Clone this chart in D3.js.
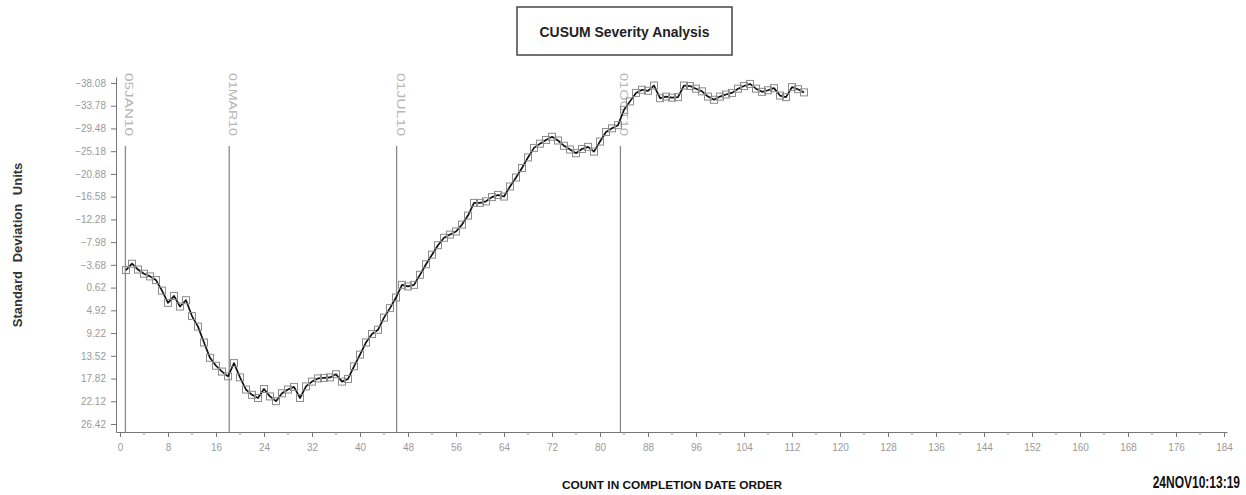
<!DOCTYPE html>
<html>
<head>
<meta charset="utf-8">
<script src="https://cdn.jsdelivr.net/npm/d3@7"></script>
<style>
  body { margin: 0; background: #fff; }
  svg { display: block; }
  text { font-family: 'Liberation Sans Narrow', 'Arial Narrow', 'Liberation Sans', Arial, sans-serif; }
</style>
</head>
<body>
<svg id="chart" width="1246" height="495"></svg>
<script>
// CUSUM of severity, one value per record in completion-date order
const cusumValues = [
  -2.7, -3.9, -2.8, -2.0, -1.5, -0.8, 1.2, 3.5, 2.2, 4.2,
   3.0, 6.0, 8.0, 11.0, 13.9, 15.4, 16.5, 17.4, 14.9, 17.6,
  19.9, 20.9, 21.5, 19.8, 21.2, 22.1, 20.6, 19.9, 19.4, 21.5,
  19.3, 18.4, 17.8, 17.7, 17.6, 17.0, 18.4, 17.9, 15.5, 13.3,
  11.0, 9.4, 8.6, 6.3, 4.5, 2.5, 0.1, 0.4, 0.1, -1.8,
  -3.8, -5.6, -7.4, -8.8, -9.4, -10.0, -11.3, -13.0, -15.4, -15.4,
  -15.7, -16.5, -16.9, -16.6, -18.5, -20.2, -22.0, -24.0, -25.8, -26.6,
  -27.3, -27.9, -27.2, -26.2, -25.5, -24.8, -25.6, -26.0, -25.1, -27.0,
  -28.8, -29.5, -30.1, -33.0, -34.6, -36.2, -36.8, -36.6, -37.6, -35.2,
  -35.5, -35.3, -35.4, -37.6, -37.5, -37.0, -36.5, -35.5, -34.9, -35.5,
  -35.9, -36.2, -37.0, -37.5, -37.9, -37.0, -36.4, -36.7, -37.1, -35.7,
  -35.4, -37.3, -36.9, -36.3
];
const counts = cusumValues.map((_, i) => i + 1);

// Axis tick values
const yTickValues = [-38.08, -33.78, -29.48, -25.18, -20.88, -16.58, -12.28, -7.98,
                     -3.68, 0.62, 4.92, 9.22, 13.52, 17.82, 22.12, 26.42];
const xTickValues = [0, 8, 16, 24, 32, 40, 48, 56, 64, 72, 80, 88, 96, 104, 112,
                     120, 128, 136, 144, 152, 160, 168, 176, 184];

// Date reference lines, placed at the count where each date starts
const refLabels = ["05JAN10", "01MAR10", "01JUL10", "01OCT10"];
const refCounts = [0.9, 18.2, 46.1, 83.4];

const svg = d3.select("#chart");

const x = d3.scaleLinear().domain([-0.667, 184.5]).range([116, 1227]);
const y = d3.scaleLinear().domain([-39.21, 27.93]).range([77, 432]);

const tickGray = "#9a9a9a";

// Title box
svg.append("rect")
  .attr("x", 517).attr("y", 7).attr("width", 215).attr("height", 48)
  .attr("fill", "#fff").attr("stroke", "#444").attr("stroke-width", 1.5);
svg.append("text")
  .attr("x", 624.5).attr("y", 37)
  .attr("text-anchor", "middle")
  .attr("font-size", 15).attr("font-weight", "bold").attr("fill", "#222")
  .attr("textLength", 170).attr("lengthAdjust", "spacingAndGlyphs")
  .text("CUSUM Severity Analysis");

// Y axis
const yAxis = svg.append("g")
  .attr("transform", "translate(116,0)")
  .call(d3.axisLeft(y).tickValues(yTickValues).tickSize(5).tickSizeOuter(0)
          .tickFormat(d3.format(".2f")));
yAxis.select(".domain").attr("stroke", "#777");
yAxis.selectAll(".tick line").attr("stroke", "#777");
yAxis.selectAll(".tick text")
  .attr("x", -10).attr("font-size", 10).attr("fill", tickGray)
  .attr("font-family", "'Liberation Sans Narrow', 'Liberation Sans', Arial, sans-serif");

// X axis
const xAxis = svg.append("g")
  .attr("transform", "translate(0,432)")
  .call(d3.axisBottom(x).tickValues(xTickValues).tickSize(5).tickSizeOuter(0)
          .tickFormat(d3.format("d")));
xAxis.select(".domain").attr("stroke", "#777");
xAxis.selectAll(".tick line").attr("stroke", "#777");
xAxis.selectAll(".tick text")
  .attr("y", 12).attr("font-size", 10).attr("fill", tickGray)
  .attr("font-family", "'Liberation Sans Narrow', 'Liberation Sans', Arial, sans-serif");

// Minor ticks halfway between labelled ticks
svg.append("g").selectAll("line")
  .data(xTickValues.slice(0, -1).map(v => v + 4))
  .join("line")
  .attr("x1", d => x(d)).attr("x2", d => x(d))
  .attr("y1", 432).attr("y2", 435)
  .attr("stroke", "#999");

// Reference lines for dates
const refs = svg.append("g");
refs.selectAll("line")
  .data(refCounts)
  .join("line")
  .attr("x1", d => x(d)).attr("x2", d => x(d))
  .attr("y1", 146).attr("y2", 432)
  .attr("stroke", "#8a8a8a").attr("stroke-width", 1.3);
refs.selectAll("text")
  .data(refCounts)
  .join("text")
  .attr("transform", d => `translate(${x(d)},73) rotate(90)`)
  .attr("font-size", 11).attr("fill", "#b5b5b5")
  .attr("textLength", 63).attr("lengthAdjust", "spacingAndGlyphs")
  .text((d, i) => refLabels[i]);

// CUSUM line
const line = d3.line()
  .x((d, i) => x(counts[i]))
  .y(d => y(d));
svg.append("path")
  .datum(cusumValues)
  .attr("d", line)
  .attr("fill", "none")
  .attr("stroke", "#111")
  .attr("stroke-width", 1.7)
  .attr("stroke-linejoin", "round");

// Open square markers
const ms = 7;
svg.append("g").selectAll("rect")
  .data(cusumValues)
  .join("rect")
  .attr("x", (d, i) => x(counts[i]) - ms / 2)
  .attr("y", d => y(d) - ms / 2)
  .attr("width", ms).attr("height", ms)
  .attr("fill", "none")
  .attr("stroke", "#8c8c8c")
  .attr("stroke-width", 1);

// Axis titles
svg.append("text")
  .attr("transform", "translate(22,245) rotate(-90)")
  .attr("text-anchor", "middle")
  .attr("font-size", 13).attr("font-weight", "bold").attr("fill", "#333")
  .attr("word-spacing", 5)
  .attr("font-family", "'Liberation Sans', Arial, sans-serif")
  .text("Standard Deviation Units");

svg.append("text")
  .attr("x", 672).attr("y", 489)
  .attr("text-anchor", "middle")
  .attr("font-size", 11).attr("font-weight", "bold").attr("fill", "#111")
  .attr("textLength", 220).attr("lengthAdjust", "spacingAndGlyphs")
  .text("COUNT IN COMPLETION DATE ORDER");

// Run timestamp, condensed horizontally
svg.append("text")
  .attr("transform", "translate(1240,488) scale(0.75,1)")
  .attr("text-anchor", "end")
  .attr("font-size", 16).attr("font-weight", "bold").attr("fill", "#111")
  .attr("font-family", "'Liberation Sans', Arial, sans-serif")
  .text("24NOV10:13:19");
</script>
</body>
</html>
